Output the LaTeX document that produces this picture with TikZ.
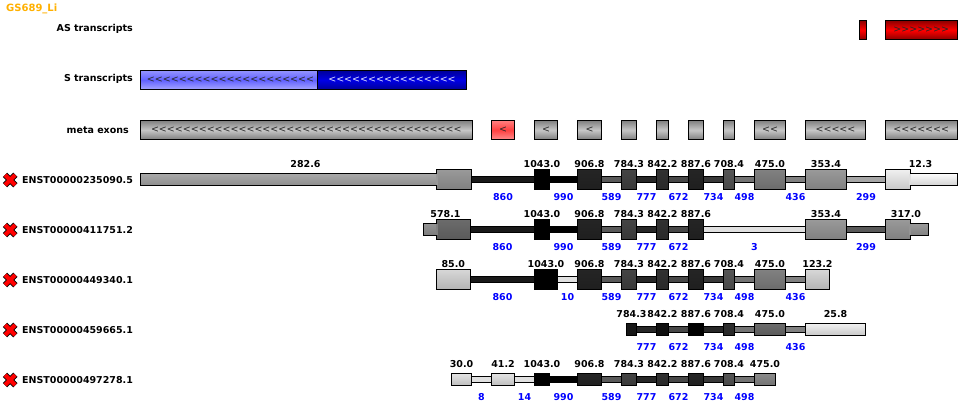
\documentclass[tikz,border=0pt]{standalone}
\usepackage{fontspec}
\setmainfont{DejaVu Sans}
\newfontfamily\chevfont{DejaVu Sans}
\usepackage{tikz}
\usetikzlibrary{arrows,positioning}
\definecolor{titleorange}{HTML}{FFB000}
\newcommand{\labelsize}{\fontsize{9.5}{11}\selectfont\bfseries}
\tikzset{
    %Define style for coloured track boxes
    trackbox/.style={
           rectangle,
           draw=black,
           line width=1pt,
           inner sep=0pt,
           font=\chevfont\fontsize{9.5}{11}\selectfont,
           text=black!85,
           anchor=west},
    metabox/.style={trackbox, top color=black!50, bottom color=black!50, middle color=black!22},
    pinkbox/.style={trackbox, top color=red!50!white, bottom color=red!45!white, middle color=red!75!white},
    redbox/.style={trackbox, top color=red!55!black, bottom color=red!55!black, middle color=red},
    lightblue/.style={trackbox, top color=blue!42!white, bottom color=blue!35!white, middle color=blue!62!white},
    darkblue/.style={trackbox, top color=blue!60!black, bottom color=blue!60!black, middle color=blue!90!black, text=blue!10!white},
    %Define style for exons
    exon/.style={
           rectangle,
           draw=black,
           line width=1pt,
           inner sep=0pt,
           anchor=west},
    %Define style for texts
    trackname/.style={font=\labelsize, inner sep=0pt, anchor=east},
    enstname/.style={font=\labelsize, inner sep=0pt, anchor=west},
    score/.style={font=\labelsize, inner sep=0pt, yshift=16pt},
    intronlen/.style={font=\labelsize, text=blue, inner sep=0pt, yshift=-17pt},
    % Define intron bar and seam between thin and thick exon parts
    intron/.style={
           draw=black,
           line width=1pt,
           double=black!#1!white,
           double distance=5pt},
    seam/.style={draw=black!#1!white, line width=1.3pt},
    delcross/.pic={
           \draw[black, line width=6pt] (-5.2,-5.2) -- (5.2,5.2) (-5.2,5.2) -- (5.2,-5.2);
           \draw[red, line width=4.2pt] (-5,-5) -- (5,5) (-5,5) -- (5,-5);}
}
% name, left, right, centre y, style, text
\newcommand{\trackbar}[6]{
    \pgfmathsetmacro{\barwd}{#3-#2-1}
    \node[#5, minimum width=\barwd pt, minimum height=19pt](#1) at (#2,#4) {#6};
}
% name, left, right, centre y, height, black percent, score
\newcommand{\exonbar}[7]{
    \pgfmathsetmacro{\exwd}{#3-#2-1}
    \pgfmathsetmacro{\exht}{#5-1}
    \pgfmathsetmacro{\extop}{max(0,1.2*#6-20)}
    \node[exon, top color=black!\extop!white, bottom color=black!#6!white,
          minimum width=\exwd pt, minimum height=\exht pt](#1) at (#2,#4) {};
    \if\relax\detokenize{#7}\relax\else
    \node[score](#1s) at (#1) {#7};
    \fi
}
\begin{document}
\begin{tikzpicture}[x=1pt,y=-1pt]
\useasboundingbox (0,0) rectangle (962,411);
 %titles
\node[font=\fontsize{10}{12}\selectfont\bfseries, text=titleorange, inner sep=0pt, anchor=west](title) at (6,9) {GS689\_Li};
\node[trackname](astitle) at (133,29) {AS transcripts};
\node[trackname](stitle) at (133,79) {S transcripts};
\node[trackname](metatitle) at (129,130) {meta exons};

 %strand tracks
\trackbar{as1}{859}{866.5}{30}{redbox}{}
\trackbar{as2}{885}{957.5}{30}{redbox}{>{}>{}>{}>{}>{}>{}>}
\trackbar{s1}{140}{318}{80}{lightblue}{\hspace*{3pt}<<<<<<<<<<<<<<<<<<<<<}
\trackbar{s2}{317}{467}{80}{darkblue}{<<<<<<<<<<<<<<<<}
\trackbar{m1}{140}{472.5}{130}{metabox}{<<<<<<<<<<<<<<<<<<<<<<<<<<<<<<<<<<<<<<<}
\trackbar{m2}{491}{515}{130}{pinkbox}{<}
\trackbar{m3}{534}{558}{130}{metabox}{<}
\trackbar{m4}{577}{602}{130}{metabox}{<}
\trackbar{m5}{621}{637}{130}{metabox}{}
\trackbar{m6}{656}{669}{130}{metabox}{}
\trackbar{m7}{688}{704}{130}{metabox}{}
\trackbar{m8}{723}{735}{130}{metabox}{}
\trackbar{m9}{754}{786}{130}{metabox}{<<}
\trackbar{m10}{805}{866}{130}{metabox}{<<<<<}
\trackbar{m11}{885}{957.5}{130}{metabox}{<<<<<<<}

 %row names
\foreach \rowname/\rowy/\rowtext in {a/180/ENST00000235090.5, b/230/ENST00000411751.2, c/280/ENST00000449340.1, d/330/ENST00000459665.1, e/380/ENST00000497278.1}{
    \pic at (10.2,\rowy) {delcross};
    \node[enstname](name\rowname) at (22,\rowy) {\rowtext};
}

 %first transcript
\exonbar{a0}{140}{437}{180}{13}{45}{}
\exonbar{a1}{436}{472}{180}{21}{50}{}
\draw[seam=40] ([yshift=-1pt]a0.north east) -- ([yshift=1pt]a0.south east);
\node[score](a1s) at (305.5,180) {282.6};
\exonbar{a2}{534}{550}{180}{21}{100}{1043.0}
\exonbar{a3}{577}{602}{180}{21}{88}{906.8}
\exonbar{a4}{621}{637}{180}{21}{78}{784.3}
\exonbar{a5}{656}{669}{180}{21}{84}{842.2}
\exonbar{a6}{688}{704}{180}{21}{88}{887.6}
\exonbar{a7}{723}{735}{180}{21}{72}{708.4}
\exonbar{a8}{754}{786}{180}{21}{58}{475.0}
\exonbar{a9}{805}{847}{180}{21}{50}{353.4}
\exonbar{a10}{885}{911}{180}{21}{22}{}
\exonbar{a11}{910}{957.5}{180}{13}{18}{}
\draw[seam=12] ([yshift=-1pt]a11.north west) -- ([yshift=1pt]a11.south west);
\node[score](a10s) at (920.5,180) {12.3};
\path (a1) edge[intron=90] node[intronlen](a1l){860} (a2)
      (a2) edge[intron=100] node[intronlen](a2l){990} (a3)
      (a3) edge[intron=65] node[intronlen](a3l){589} (a4)
      (a4) edge[intron=85] node[intronlen](a4l){777} (a5)
      (a5) edge[intron=72] node[intronlen](a5l){672} (a6)
      (a6) edge[intron=78] node[intronlen](a6l){734} (a7)
      (a7) edge[intron=55] node[intronlen](a7l){498} (a8)
      (a8) edge[intron=50] node[intronlen](a8l){436} (a9)
      (a9) edge[intron=35] node[intronlen](a9l){299} (a10);

 %second transcript
\exonbar{b0}{423}{437}{230}{13}{52}{}
\exonbar{b1}{436}{471}{230}{21}{65}{}
\draw[seam=50] ([yshift=-1pt]b0.north east) -- ([yshift=1pt]b0.south east);
\node[score](b1s) at (445.5,230) {578.1};
\exonbar{b2}{534}{550}{230}{21}{100}{1043.0}
\exonbar{b3}{577}{602}{230}{21}{88}{906.8}
\exonbar{b4}{621}{637}{230}{21}{78}{784.3}
\exonbar{b5}{656}{669}{230}{21}{84}{842.2}
\exonbar{b6}{688}{704}{230}{21}{88}{887.6}
\exonbar{b9}{805}{847}{230}{21}{50}{353.4}
\exonbar{b10}{885}{911}{230}{21}{50}{}
\exonbar{b11}{910}{929}{230}{13}{50}{}
\draw[seam=42] ([yshift=-1pt]b11.north west) -- ([yshift=1pt]b11.south west);
\node[score](b10s) at (906,230) {317.0};
\path (b1) edge[intron=90] node[intronlen](b1l){860} (b2)
      (b2) edge[intron=100] node[intronlen](b2l){990} (b3)
      (b3) edge[intron=65] node[intronlen](b3l){589} (b4)
      (b4) edge[intron=85] node[intronlen](b4l){777} (b5)
      (b5) edge[intron=72] node[intronlen](b5l){672} (b6)
      (b6) edge[intron=12] node[intronlen](b6l){3} (b9)
      (b9) edge[intron=65] node[intronlen](b9l){299} (b10);

 %third transcript
\exonbar{c1}{435.5}{471}{280}{21}{30}{85.0}
\exonbar{c2}{534}{558}{280}{21}{100}{1043.0}
\exonbar{c3}{577}{602}{280}{21}{88}{906.8}
\exonbar{c4}{621}{637}{280}{21}{78}{784.3}
\exonbar{c5}{656}{669}{280}{21}{84}{842.2}
\exonbar{c6}{688}{704}{280}{21}{88}{887.6}
\exonbar{c7}{723}{735}{280}{21}{72}{708.4}
\exonbar{c8}{754}{786}{280}{21}{58}{475.0}
\exonbar{c9}{805}{830}{280}{21}{30}{123.2}
\path (c1) edge[intron=90] node[intronlen](c1l){860} (c2)
      (c2) edge[intron=12] node[intronlen](c2l){10} (c3)
      (c3) edge[intron=65] node[intronlen](c3l){589} (c4)
      (c4) edge[intron=85] node[intronlen](c4l){777} (c5)
      (c5) edge[intron=72] node[intronlen](c5l){672} (c6)
      (c6) edge[intron=78] node[intronlen](c6l){734} (c7)
      (c7) edge[intron=55] node[intronlen](c7l){498} (c8)
      (c8) edge[intron=50] node[intronlen](c8l){436} (c9);

 %fourth transcript
\exonbar{d4}{626}{637}{330}{13}{92}{784.3}
\exonbar{d5}{656}{669}{330}{13}{95}{842.2}
\exonbar{d6}{688}{704}{330}{13}{100}{887.6}
\exonbar{d7}{723}{735}{330}{13}{85}{708.4}
\exonbar{d8}{754}{786}{330}{13}{65}{475.0}
\exonbar{d9}{805}{866}{330}{13}{22}{25.8}
\path (d4) edge[intron=85] node[intronlen](d4l){777} (d5)
      (d5) edge[intron=72] node[intronlen](d5l){672} (d6)
      (d6) edge[intron=85] node[intronlen](d6l){734} (d7)
      (d7) edge[intron=55] node[intronlen](d7l){498} (d8)
      (d8) edge[intron=50] node[intronlen](d8l){436} (d9);

 %fifth transcript
\exonbar{e0}{451}{472}{380}{13}{26}{30.0}
\exonbar{e1}{491}{515}{380}{13}{26}{41.2}
\exonbar{e2}{534}{550}{380}{13}{100}{1043.0}
\exonbar{e3}{577}{602}{380}{13}{88}{906.8}
\exonbar{e4}{621}{637}{380}{13}{78}{784.3}
\exonbar{e5}{656}{669}{380}{13}{84}{842.2}
\exonbar{e6}{688}{704}{380}{13}{88}{887.6}
\exonbar{e7}{723}{735}{380}{13}{72}{708.4}
\exonbar{e8}{754}{776}{380}{13}{55}{475.0}
\path (e0) edge[intron=12] node[intronlen](e0l){8} (e1)
      (e1) edge[intron=12] node[intronlen](e1l){14} (e2)
      (e2) edge[intron=100] node[intronlen](e2l){990} (e3)
      (e3) edge[intron=65] node[intronlen](e3l){589} (e4)
      (e4) edge[intron=85] node[intronlen](e4l){777} (e5)
      (e5) edge[intron=72] node[intronlen](e5l){672} (e6)
      (e6) edge[intron=78] node[intronlen](e6l){734} (e7)
      (e7) edge[intron=55] node[intronlen](e7l){498} (e8);
\end{tikzpicture}
\end{document}
